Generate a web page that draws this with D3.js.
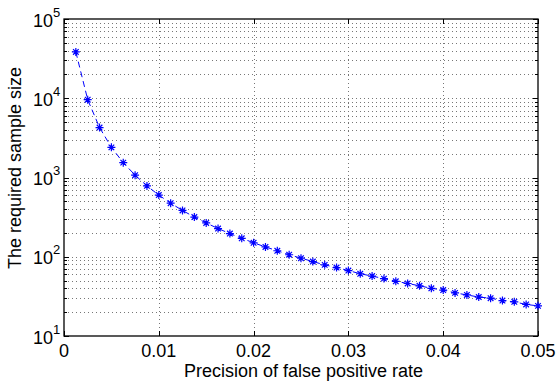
<!DOCTYPE html>
<html>
<head>
<meta charset="utf-8">
<script src="https://cdn.jsdelivr.net/npm/d3@7"></script>
<style>
  body { margin: 0; background: #fff; }
  text { font-family: "Liberation Sans", Arial, sans-serif; fill: #000; }
</style>
</head>
<body>
<div id="container"></div>
<script>
// precision of false positive rate (x) and required sample size (y)
const precision = [0.00125, 0.0025, 0.00375, 0.005, 0.00625, 0.0075, 0.00875, 0.01,
  0.01125, 0.0125, 0.01375, 0.015, 0.01625, 0.0175, 0.01875, 0.02,
  0.02125, 0.0225, 0.02375, 0.025, 0.02625, 0.0275, 0.02875, 0.03,
  0.03125, 0.0325, 0.03375, 0.035, 0.03625, 0.0375, 0.03875, 0.04,
  0.04125, 0.0425, 0.04375, 0.045, 0.04625, 0.0475, 0.04875, 0.05];
const sampleSize = [38400, 9600, 4270, 2400, 1540, 1070, 784, 600,
  474, 384, 317, 267, 227, 196, 171, 150,
  133, 119, 106, 96, 87, 79, 73, 67,
  61, 57, 53, 49, 46, 43, 40, 38,
  35, 33, 31, 30, 28, 27, 25, 24];
const xTicks = [0, 0.01, 0.02, 0.03, 0.04, 0.05];
const xTickLabels = ["0", "0.01", "0.02", "0.03", "0.04", "0.05"];
const yExponents = [1, 2, 3, 4, 5];

const width = 558;
const height = 381;
const margin = ({ top: 19, right: 20, bottom: 45, left: 64 });

const points = precision.map((p, i) => ({ x: p, y: sampleSize[i] }));

let x = d3.scaleLinear()
    .domain([0, 0.05])
    .range([margin.left, width - margin.right]);

let y = d3.scaleLog()
    .domain([10, 1e5])
    .range([height - margin.bottom, margin.top]);

let minorY = [];
for (let e = 1; e < 5; e++) {
    for (let m = 2; m <= 9; m++) minorY.push(m * Math.pow(10, e));
}
let majorY = yExponents.map(e => Math.pow(10, e));

let svg = d3.select("#container").append("svg")
    .attr("width", width)
    .attr("height", height);

svg.append("rect").attr("width", width).attr("height", height).attr("fill", "#fff");

const x0 = margin.left, x1 = width - margin.right;
const y0 = height - margin.bottom, y1 = margin.top;

// grid
let grid = svg.append("g")
    .attr("stroke", "#777")
    .attr("stroke-width", 1)
    .attr("stroke-dasharray", "1,3");

grid.selectAll("line.gy")
    .data(minorY.concat(majorY.slice(1, 4)))
    .join("line")
    .attr("class", "gy")
    .attr("x1", x0).attr("x2", x1)
    .attr("y1", d => Math.round(y(d)) + 0.5)
    .attr("y2", d => Math.round(y(d)) + 0.5);

grid.selectAll("line.gx")
    .data(xTicks.slice(1, 5))
    .join("line")
    .attr("class", "gx")
    .attr("y1", y0).attr("y2", y1)
    .attr("x1", d => Math.round(x(d)) + 0.5)
    .attr("x2", d => Math.round(x(d)) + 0.5);

// ticks (inside, both sides)
let ticks = svg.append("g").attr("stroke", "#000").attr("stroke-width", 1);
ticks.selectAll("line.tb")
    .data(xTicks)
    .join("line")
    .attr("x1", d => Math.round(x(d)) + 0.5).attr("x2", d => Math.round(x(d)) + 0.5)
    .attr("y1", y0).attr("y2", y0 - 5);
ticks.selectAll("line.tt")
    .data(xTicks)
    .join("line")
    .attr("x1", d => Math.round(x(d)) + 0.5).attr("x2", d => Math.round(x(d)) + 0.5)
    .attr("y1", y1).attr("y2", y1 + 5);
ticks.selectAll("line.yl")
    .data(majorY.concat(minorY))
    .join("line")
    .attr("x1", x0).attr("x2", d => x0 + (majorY.includes(d) ? 5 : 3))
    .attr("y1", d => Math.round(y(d)) + 0.5).attr("y2", d => Math.round(y(d)) + 0.5);
ticks.selectAll("line.yr")
    .data(majorY.concat(minorY))
    .join("line")
    .attr("x1", x1).attr("x2", d => x1 - (majorY.includes(d) ? 5 : 3))
    .attr("y1", d => Math.round(y(d)) + 0.5).attr("y2", d => Math.round(y(d)) + 0.5);

// box
svg.append("rect")
    .attr("x", x0).attr("y", y1)
    .attr("width", x1 - x0).attr("height", y0 - y1)
    .attr("fill", "none").attr("stroke", "#000").attr("stroke-width", 1.3);

// tick labels
svg.append("g")
    .selectAll("text")
    .data(xTicks)
    .join("text")
    .attr("x", d => x(d))
    .attr("y", y0 + 20.5)
    .attr("text-anchor", "middle")
    .attr("font-size", 18)
    .text((d, i) => xTickLabels[i]);

let yLab = svg.append("g");
yLab.selectAll("text.base")
    .data(yExponents)
    .join("text")
    .attr("class", "base")
    .attr("x", x0 - 11)
    .attr("y", e => y(Math.pow(10, e)) + 7.5)
    .attr("text-anchor", "end")
    .attr("font-size", 18)
    .text("10");
yLab.selectAll("text.exp")
    .data(yExponents)
    .join("text")
    .attr("class", "exp")
    .attr("x", x0 - 11)
    .attr("y", e => y(Math.pow(10, e)) - 2.5)
    .attr("font-size", 13)
    .text(e => e);

// axis labels
svg.append("text")
    .attr("x", 303.5)
    .attr("y", 377)
    .attr("text-anchor", "middle")
    .attr("font-size", 18)
    .text("Precision of false positive rate");

svg.append("text")
    .attr("transform", "translate(21,168) rotate(-90)")
    .attr("text-anchor", "middle")
    .attr("font-size", 18)
    .text("The required sample size");

// series
let line = d3.line()
    .x(d => x(d.x))
    .y(d => y(d.y));

svg.append("path")
    .attr("fill", "none")
    .attr("stroke", "#0000ff")
    .attr("stroke-width", 1)
    .attr("stroke-dasharray", "6,4")
    .attr("d", line(points));

const r = 4;
const star = `M${-r},0L${r},0M0,${-r}L0,${r}M${-r * 0.7},${-r * 0.7}L${r * 0.7},${r * 0.7}M${-r * 0.7},${r * 0.7}L${r * 0.7},${-r * 0.7}`;
svg.append("g")
    .attr("stroke", "#0000ff")
    .attr("stroke-width", 1.2)
    .attr("fill", "none")
    .selectAll("path")
    .data(points)
    .join("path")
    .attr("transform", d => `translate(${x(d.x)},${y(d.y)})`)
    .attr("d", star);
</script>
</body>
</html>
